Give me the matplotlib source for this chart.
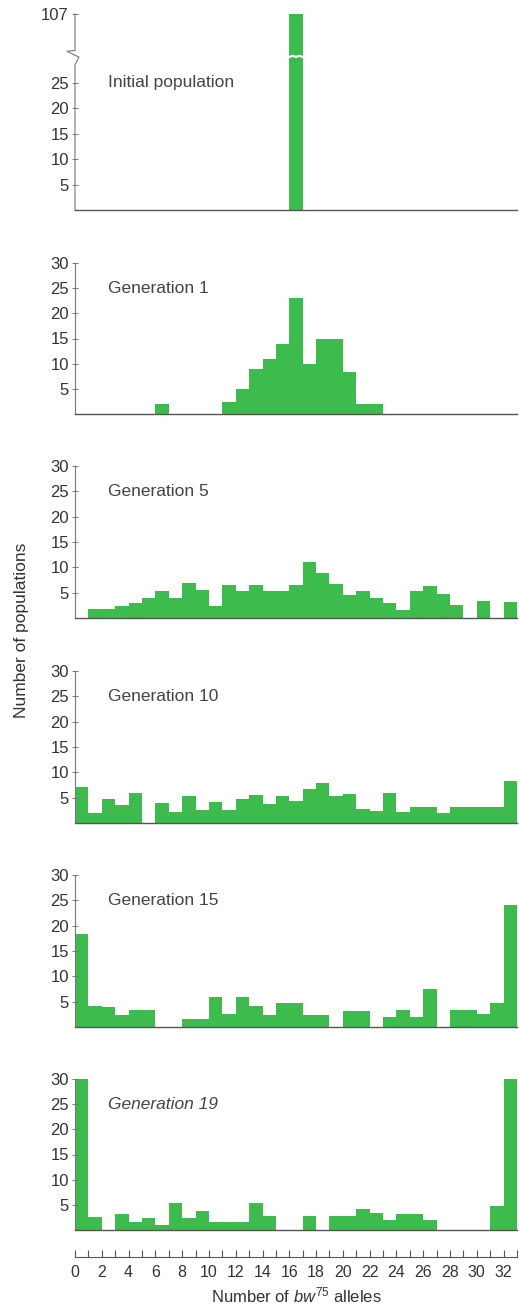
import numpy as np
import matplotlib
matplotlib.use('Agg')
import matplotlib.pyplot as plt
from matplotlib.ticker import MultipleLocator

plt.rcParams['font.family'] = ['Liberation Sans', 'DejaVu Sans']
plt.rcParams['mathtext.fontset'] = 'custom'
plt.rcParams['mathtext.rm'] = 'Liberation Sans'
plt.rcParams['mathtext.it'] = 'Liberation Sans:italic'

# number of bw75 alleles (0..32)
alleles = np.arange(33)

# number of populations per allele count
initial = [0]*16 + [107] + [0]*16
gen1 = [0, 0, 0, 0, 0, 0, 2, 0, 0, 0, 0, 2.4, 5, 9, 11, 14, 23,
        10, 15, 15, 8.4, 2, 2, 0, 0, 0, 0, 0, 0, 0, 0, 0, 0]
gen5 = [0, 1.7, 1.7, 2.3, 3, 3.9, 5.4, 3.9, 7, 5.6, 2.3, 6.6, 5.3,
        6.5, 5.4, 5.4, 6.6, 11, 8.8, 6.8, 4.5, 5.4, 4, 2.9, 1.5, 5.3,
        6.3, 4.8, 2.5, 0, 3.4, 0, 3.2]
gen10 = [7.2, 2, 4.7, 3.5, 6, 0, 4, 2.1, 5.3, 2.5, 4.1, 2.5, 4.7,
         5.6, 3.8, 5.3, 4.3, 6.7, 7.9, 5.3, 5.8, 2.8, 2.3, 6, 2.2, 3.1,
         3.1, 1.9, 3.1, 3.1, 3.1, 3.1, 8.3]
gen15 = [18.4, 4.1, 4, 2.3, 3.4, 3.4, 0, 0, 1.6, 1.6, 6, 2.5, 5.9,
         4.1, 2.4, 4.7, 4.7, 2.3, 2.3, 0, 3.2, 3.2, 0, 2, 3.3, 1.9, 7.5,
         0, 3.4, 3.4, 2.5, 4.7, 24]
gen19 = [30, 2.5, 0, 3.1, 1.6, 2.4, 1, 5.4, 2.3, 3.7, 1.5, 1.5, 1.5,
         5.4, 2.7, 0, 0, 2.7, 0, 2.7, 2.7, 4.2, 3.3, 2, 3.2, 3.2, 1.9,
         0, 0, 0, 0, 4.8, 30]

panels = [('Generation 1', gen1), ('Generation 5', gen5),
          ('Generation 10', gen10), ('Generation 15', gen15),
          ('Generation 19', gen19)]

green = '#3dbb4c'
gray = '#555555'
W, H = 519, 1311
fig = plt.figure(figsize=(W/100, H/100), dpi=100)

x0, x1 = 75, 517


def make_ax(top, bottom):
    return fig.add_axes([x0/W, 1 - bottom/H, (x1 - x0)/W, (bottom - top)/H])


def style(ax):
    for s in ['top', 'right']:
        ax.spines[s].set_visible(False)
    ax.spines['left'].set_color('#777777')
    ax.spines['bottom'].set_color(gray)
    ax.spines['left'].set_linewidth(0.8)
    ax.spines['bottom'].set_linewidth(1.0)
    ax.set_xlim(0, 33)
    ax.set_xticks([])
    ax.tick_params(axis='y', direction='inout', length=5, width=0.7,
                   color='#777777', labelsize=12, labelcolor='#333333', pad=2)


# break in the y axis for the initial population
k = 0.11
def fwd(y):
    y = np.asarray(y, dtype=float)
    return np.where(y <= 30, y, 30 + (y - 30) * k)
def inv(y):
    y = np.asarray(y, dtype=float)
    return np.where(y <= 30, y, 30 + (y - 30) / k)

ax = make_ax(14, 210)
ax.set_yscale('function', functions=(fwd, inv))
ax.bar(alleles, initial, width=1, align='edge', color=green, linewidth=0)
ax.set_ylim(0, 107)
style(ax)
ax.set_yticks([5, 10, 15, 20, 25, 107])
ax.set_yticklabels(['5', '10', '15', '20', '25', '107'])
ax.yaxis.set_minor_locator(plt.NullLocator())
ax.text(2.5, 25, 'Initial population', fontsize=12.5, color='#444444', va='center')
ax.spines['left'].set_visible(False)
# zigzag spine
px = 1/442
f = lambda v: float(fwd(v)) / float(fwd(107))
ax.plot([0, 0, -8*px, 4*px, 0, 0],
        [1, f(42), f(30) + 0.03, f(30) + 0.0, f(28.5), 0],
        transform=ax.transAxes, color='#777777', lw=0.8, clip_on=False)
# white zigzag across the bar
bt = ax.get_xaxis_transform()
zx = np.linspace(16, 17, 5)
zy = [f(30.3), f(32.5), f(30.3), f(32.5), f(30.3)]
ax.plot(zx, zy, transform=bt, color='white', lw=1.6, clip_on=False)

tops = [263, 466, 671, 875, 1079]
bottoms = [414, 618, 823, 1027, 1230]
for (name, vals), t, b in zip(panels, tops, bottoms):
    ax = make_ax(t, b)
    ax.bar(alleles, vals, width=1, align='edge', color=green, linewidth=0)
    ax.set_ylim(0, 30)
    style(ax)
    ax.set_yticks([5, 10, 15, 20, 25, 30])
    ax.text(2.5, 25, name, fontsize=12.5, color='#444444', va='center',
            style='italic' if name == 'Generation 19' else 'normal')

# ruler axis at the bottom
rax = make_ax(1240, 1257)
for s in ['top', 'right', 'left']:
    rax.spines[s].set_visible(False)
rax.spines['bottom'].set_color(gray)
rax.set_xlim(0, 33)
rax.set_yticks([])
rax.set_xticks(np.arange(0, 33, 2))
rax.xaxis.set_minor_locator(MultipleLocator(1))
rax.tick_params(axis='x', which='both', direction='in', length=5, width=0.8,
                color=gray, labelsize=11.5, labelcolor='#333333', pad=6)
rax.set_xlabel('Number of $bw^{75}$ alleles', fontsize=12, color='#333333', labelpad=4)

fig.text(22/W, 1 - 630/H, 'Number of populations', rotation=90, fontsize=12.5,
         color='#333333', ha='center', va='center')

fig.savefig('out.png', dpi=100)
